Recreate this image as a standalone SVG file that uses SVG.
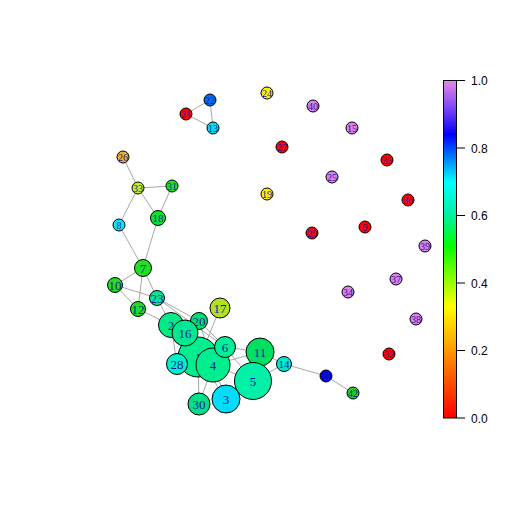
<svg xmlns="http://www.w3.org/2000/svg" width="512" height="512" viewBox="0 0 512 512">
<style>
.e{stroke:#a8a8a8;stroke-width:1;fill:none}
.n circle{stroke:#000;stroke-width:1}
.n text{font-family:"Liberation Serif",serif;fill:#1a1aa0;text-anchor:middle;dominant-baseline:central}
.b text{font-size:13px}
.s text{font-size:10px}
.ax{font-family:"Liberation Sans",Arial,sans-serif;font-size:12px;fill:#000}
</style>
<defs>
<linearGradient id="rb" x1="0" y1="1" x2="0" y2="0">
<stop offset="0" stop-color="#ff0000"/>
<stop offset="0.17" stop-color="#ff8000"/>
<stop offset="0.33" stop-color="#ffff00"/>
<stop offset="0.51" stop-color="#00ff00"/>
<stop offset="0.6" stop-color="#00f0a0"/>
<stop offset="0.7" stop-color="#00ffff"/>
<stop offset="0.84" stop-color="#0000ff"/>
<stop offset="0.92" stop-color="#8048f8"/>
<stop offset="1" stop-color="#e888e8"/>
</linearGradient>
</defs>
<rect width="512" height="512" fill="#fff"/>
<g id="connectors">
<line class="e" x1="186" y1="114" x2="210" y2="100"/>
<line class="e" x1="186" y1="114" x2="213" y2="128"/>
<line class="e" x1="210" y1="100" x2="213" y2="128"/>
<line class="e" x1="123" y1="157" x2="138" y2="188"/>
<line class="e" x1="138" y1="188" x2="172" y2="186"/>
<line class="e" x1="138" y1="188" x2="158" y2="218"/>
<line class="e" x1="172" y1="186" x2="158" y2="218"/>
<line class="e" x1="138" y1="188" x2="119" y2="225"/>
<line class="e" x1="119" y1="225" x2="143" y2="268"/>
<line class="e" x1="158" y1="218" x2="143" y2="268"/>
<line class="e" x1="143" y1="268" x2="115" y2="285"/>
<line class="e" x1="143" y1="268" x2="138" y2="309"/>
<line class="e" x1="143" y1="268" x2="157" y2="298"/>
<line class="e" x1="115" y1="285" x2="138" y2="309"/>
<line class="e" x1="115" y1="285" x2="157" y2="298"/>
<line class="e" x1="138" y1="309" x2="171" y2="325"/>
<line class="e" x1="157" y1="298" x2="171" y2="325"/>
<line class="e" x1="157" y1="298" x2="199" y2="321"/>
<line class="e" x1="157" y1="298" x2="225" y2="347"/>
<line class="e" x1="171" y1="325" x2="185" y2="333"/>
<line class="e" x1="171" y1="325" x2="199" y2="321"/>
<line class="e" x1="171" y1="325" x2="177" y2="364"/>
<line class="e" x1="171" y1="325" x2="198" y2="357"/>
<line class="e" x1="185" y1="333" x2="199" y2="321"/>
<line class="e" x1="185" y1="333" x2="198" y2="357"/>
<line class="e" x1="185" y1="333" x2="213" y2="365"/>
<line class="e" x1="220" y1="308" x2="205" y2="345"/>
<line class="e" x1="199" y1="321" x2="225" y2="347"/>
<line class="e" x1="199" y1="321" x2="213" y2="365"/>
<line class="e" x1="225" y1="347" x2="213" y2="365"/>
<line class="e" x1="225" y1="347" x2="260" y2="352"/>
<line class="e" x1="225" y1="347" x2="253" y2="381"/>
<line class="e" x1="213" y1="365" x2="260" y2="352"/>
<line class="e" x1="213" y1="365" x2="253" y2="381"/>
<line class="e" x1="213" y1="365" x2="226" y2="399"/>
<line class="e" x1="213" y1="365" x2="199" y2="404"/>
<line class="e" x1="198" y1="357" x2="199" y2="404"/>
<line class="e" x1="198" y1="357" x2="177" y2="364"/>
<line class="e" x1="198" y1="357" x2="226" y2="399"/>
<line class="e" x1="253" y1="381" x2="260" y2="352"/>
<line class="e" x1="253" y1="381" x2="284" y2="364"/>
<line class="e" x1="260" y1="352" x2="284" y2="364"/>
<line class="e" x1="284" y1="364" x2="326" y2="376"/>
<line class="e" x1="326" y1="376" x2="353" y2="393"/>
</g>
<g id="n21" class="n s"><circle cx="186" cy="114" r="6" fill="#ff0000"/><text x="186" y="114">21</text></g>
<g id="n22" class="n s"><circle cx="210" cy="100" r="6" fill="#0070f0"/><text x="210" y="100">22</text></g>
<g id="n13" class="n s"><circle cx="213" cy="128" r="6" fill="#00e0f0"/><text x="213" y="128">13</text></g>
<g id="n26" class="n s"><circle cx="123" cy="157" r="6" fill="#f0b020"/><text x="123" y="157">26</text></g>
<g id="n33" class="n s"><circle cx="138" cy="188" r="6" fill="#c0f020"/><text x="138" y="188">33</text></g>
<g id="n31" class="n s"><circle cx="172" cy="186" r="6" fill="#20e020"/><text x="172" y="186">31</text></g>
<g id="n18" class="n b"><circle cx="158" cy="218" r="7.5" fill="#10e030"/><text x="158" y="218" style="font-size:11px">18</text></g>
<g id="n8" class="n s"><circle cx="119" cy="225" r="6" fill="#00e8f0"/><text x="119" y="225">8</text></g>
<g id="n24" class="n s"><circle cx="267" cy="93" r="6" fill="#fff000"/><text x="267" y="93">24</text></g>
<g id="n40" class="n s"><circle cx="313" cy="106" r="6" fill="#dd80e8"/><text x="313" y="106">40</text></g>
<g id="n15" class="n s"><circle cx="352" cy="128" r="6" fill="#dd80e8"/><text x="352" y="128">15</text></g>
<g id="n27" class="n s"><circle cx="282" cy="147" r="6" fill="#ff0000"/><text x="282" y="147">27</text></g>
<g id="n35" class="n s"><circle cx="387" cy="160" r="6" fill="#ff0000"/><text x="387" y="160">35</text></g>
<g id="n25" class="n s"><circle cx="332" cy="177" r="6" fill="#dd80e8"/><text x="332" y="177">25</text></g>
<g id="n19" class="n s"><circle cx="267" cy="194" r="6" fill="#ffee00"/><text x="267" y="194">19</text></g>
<g id="n36" class="n s"><circle cx="408" cy="200" r="6" fill="#ff0000"/><text x="408" y="200">36</text></g>
<g id="n9" class="n s"><circle cx="365" cy="227" r="6" fill="#ff0000"/><text x="365" y="227">9</text></g>
<g id="n29" class="n s"><circle cx="312" cy="233" r="6" fill="#ff0000"/><text x="312" y="233">29</text></g>
<g id="n39" class="n s"><circle cx="425" cy="246" r="6" fill="#dd80e8"/><text x="425" y="246">39</text></g>
<g id="n37" class="n s"><circle cx="396" cy="279" r="6" fill="#dd80e8"/><text x="396" y="279">37</text></g>
<g id="n34" class="n s"><circle cx="348" cy="292" r="6" fill="#dd80e8"/><text x="348" y="292">34</text></g>
<g id="n38" class="n s"><circle cx="416" cy="319" r="6" fill="#dd80e8"/><text x="416" y="319">38</text></g>
<g id="n32" class="n s"><circle cx="389" cy="354" r="6" fill="#ff0000"/><text x="389" y="354">32</text></g>
<g id="n41" class="n s"><circle cx="326" cy="376" r="6" fill="#0000f0"/><text x="326" y="376">41</text></g>
<g id="n42" class="n s"><circle cx="353" cy="393" r="6" fill="#20d020"/><text x="353" y="393">42</text></g>
<g id="n7" class="n b"><circle cx="143" cy="268" r="8.5" fill="#20e020"/><text x="143" y="268">7</text></g>
<g id="n10" class="n b"><circle cx="115" cy="285" r="7.5" fill="#20dd20"/><text x="115" y="285">10</text></g>
<g id="n12" class="n b"><circle cx="138" cy="309" r="7.5" fill="#20dd20"/><text x="138" y="309">12</text></g>
<g id="n23" class="n b"><circle cx="157" cy="298" r="7.5" fill="#00e890"/><text x="157" y="298">23</text></g>
<g id="n17" class="n b"><circle cx="220" cy="308" r="10" fill="#b0e020"/><text x="220" y="308">17</text></g>
<g id="n2" class="n b"><circle cx="171" cy="325" r="12.5" fill="#00ea88"/><text x="171" y="325">2</text></g>
<g id="n20" class="n b"><circle cx="199" cy="321" r="8.5" fill="#00e070"/><text x="199" y="321">20</text></g>
<g id="n1" class="n b"><circle cx="198" cy="357" r="20" fill="#00ee90"/><text x="198" y="357">1</text></g>
<g id="n16" class="n b"><circle cx="185" cy="333" r="13" fill="#00e890"/><text x="185" y="333">16</text></g>
<g id="n28" class="n b"><circle cx="177" cy="364" r="10.5" fill="#00eec8"/><text x="177" y="364">28</text></g>
<g id="n4" class="n b"><circle cx="213" cy="365" r="17" fill="#00ee90"/><text x="213" y="365">4</text></g>
<g id="n6" class="n b"><circle cx="225" cy="347" r="10.5" fill="#00ee95"/><text x="225" y="347">6</text></g>
<g id="n11" class="n b"><circle cx="260" cy="352" r="14" fill="#00e060"/><text x="260" y="352">11</text></g>
<g id="n14" class="n b"><circle cx="284" cy="364" r="7.5" fill="#00e8d0"/><text x="284" y="364" style="font-size:11px">14</text></g>
<g id="n5" class="n b"><circle cx="253" cy="381" r="18.5" fill="#00f0a8"/><text x="253" y="381">5</text></g>
<g id="n3" class="n b"><circle cx="226" cy="399" r="14" fill="#00ddf8"/><text x="226" y="399">3</text></g>
<g id="n30" class="n b"><circle cx="199" cy="404" r="11" fill="#00e088"/><text x="199" y="404">30</text></g>
<g id="legend">
<rect x="443.5" y="80.5" width="13" height="337.5" fill="url(#rb)" stroke="#000" stroke-width="1"/>
<g stroke="#000" stroke-width="1">
<line x1="457" y1="80.5" x2="465" y2="80.5"/>
<line x1="457" y1="148" x2="465" y2="148"/>
<line x1="457" y1="215.5" x2="465" y2="215.5"/>
<line x1="457" y1="283" x2="465" y2="283"/>
<line x1="457" y1="350.5" x2="465" y2="350.5"/>
<line x1="457" y1="418" x2="465" y2="418"/>
</g>
<text class="ax" x="471" y="85">1.0</text>
<text class="ax" x="471" y="152.5">0.8</text>
<text class="ax" x="471" y="220">0.6</text>
<text class="ax" x="471" y="287.5">0.4</text>
<text class="ax" x="471" y="355">0.2</text>
<text class="ax" x="471" y="422.5">0.0</text>
</g>
</svg>
